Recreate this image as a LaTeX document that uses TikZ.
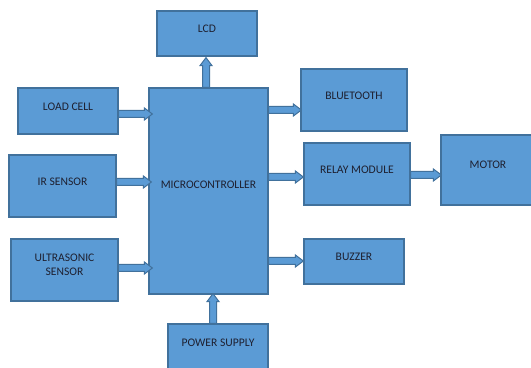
\documentclass[tikz,border=0pt]{standalone}
\usepackage{fontspec}
\setmainfont{Carlito}
\usetikzlibrary{calc}
\definecolor{boxfill}{HTML}{5B9BD5}
\definecolor{boxline}{HTML}{41719C}
\definecolor{txtcol}{HTML}{1E2030}
\newcommand\blockR[2]{\path[barrow] let \p1=(#1), \p2=(#2) in (\x1,\y1+1.75pt) -- (\x2-4pt,\y1+1.75pt) -- (\x2-4pt,\y1+3pt) -- (\x2,\y1) -- (\x2-4pt,\y1-3pt) -- (\x2-4pt,\y1-1.75pt) -- (\x1,\y1-1.75pt) -- cycle;}
\newcommand\blockU[2]{\path[barrow] let \p1=(#1), \p2=(#2) in (\x1-1.75pt,\y1) -- (\x1-1.75pt,\y2-4pt) -- (\x1-3pt,\y2-4pt) -- (\x1,\y2) -- (\x1+3pt,\y2-4pt) -- (\x1+1.75pt,\y2-4pt) -- (\x1+1.75pt,\y1) -- cycle;}
\tikzset{
  box/.style={draw=boxline, fill=boxfill, line width=0.6pt, inner sep=0pt, anchor=center},
  every label/.append style={font=\fontsize{5.8}{7}\selectfont, text=txtcol, align=center, inner sep=0pt},
  barrow/.style={draw=boxline, fill=boxfill, line width=0.5pt, line join=miter}
}
\begin{document}
\begin{tikzpicture}[x=0.5pt,y=-0.5pt]
\clip (0,0) rectangle (531,368);
\fill[white] (0,0) rectangle (531,368);
% boxes: centre, size in px (1px = 0.5pt)
\node[box, minimum width=50pt, minimum height=22.5pt, label={[yshift=2.25pt]center:LCD}] (lcd) at (207,33.5) {};
\node[box, minimum width=50pt, minimum height=23pt, label={[yshift=2pt]center:LOAD CELL}] (load) at (68,111) {};
\node[box, minimum width=53.5pt, minimum height=31pt, label={[yshift=2pt]center:IR SENSOR}] (ir) at (62.5,186) {};
\node[box, minimum width=53.5pt, minimum height=31pt, label={[yshift=2.5pt]center:ULTRASONIC\\SENSOR}] (ultra) at (64.5,270) {};
\node[box, minimum width=59.5pt, minimum height=103pt, label={[yshift=3pt]center:MICROCONTROLLER}] (micro) at (208.5,191) {};
\node[box, minimum width=50pt, minimum height=24pt, label={[yshift=2.5pt]center:POWER SUPPLY}] (power) at (218,348) {};
\node[box, minimum width=53pt, minimum height=31pt, label={[yshift=2pt]center:BLUETOOTH}] (bt) at (354,100) {};
\node[box, minimum width=53pt, minimum height=31pt, label={[yshift=2pt]center:RELAY MODULE}] (relay) at (357,174) {};
\node[box, minimum width=47pt, minimum height=35pt, label={[yshift=2.5pt]center:MOTOR}] (motor) at (488,170) {};
\node[box, minimum width=50pt, minimum height=22.5pt, label={[yshift=2.25pt]center:BUZZER}] (buzzer) at (354,261.5) {};
% connector end points
\coordinate (ls) at (load.east |- 0,114);   \coordinate (le) at ($(micro.west |- 0,114)+(4,0)$);
\coordinate (is) at (ir.east |- 0,182);     \coordinate (ie) at ($(micro.west |- 0,182)+(3,0)$);
\coordinate (us) at (ultra.east |- 0,268);  \coordinate (ue) at ($(micro.west |- 0,268)+(4,0)$);
\coordinate (bs) at (micro.east |- 0,110);  \coordinate (be) at ($(bt.west |- 0,110)+(1,0)$);
\coordinate (rs) at (micro.east |- 0,177);  \coordinate (re) at (relay.west |- 0,177);
\coordinate (zs) at (micro.east |- 0,261);  \coordinate (ze) at (buzzer.west |- 0,261);
\coordinate (ms) at (relay.east |- 0,175);  \coordinate (me) at ($(motor.west |- 0,175)+(1,0)$);
\coordinate (cs) at (206,0 |- micro.north); \coordinate (ce) at ($(206,0 |- lcd.south)+(0,1)$);
\coordinate (ps) at (213,0 |- power.north); \coordinate (pe) at ($(213,0 |- micro.south)+(0,-1)$);
% block arrows
\blockR{ls}{le}
\blockR{is}{ie}
\blockR{us}{ue}
\blockR{bs}{be}
\blockR{rs}{re}
\blockR{zs}{ze}
\blockR{ms}{me}
\blockU{cs}{ce}
\blockU{ps}{pe}
\end{tikzpicture}
\end{document}
